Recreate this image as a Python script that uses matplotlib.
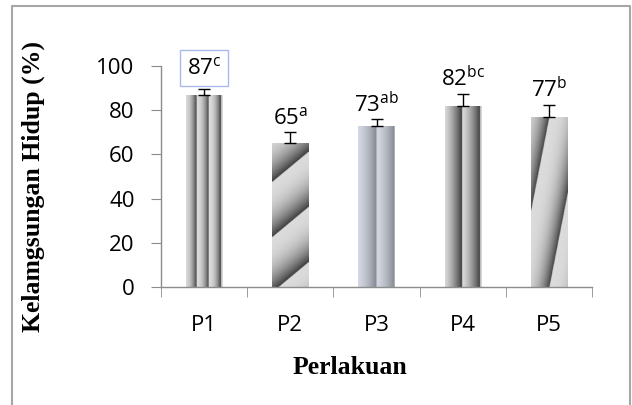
import numpy as np
import matplotlib
matplotlib.use("Agg")
import matplotlib.pyplot as plt
from matplotlib.lines import Line2D

# survival data per treatment
treatments = ['P1', 'P2', 'P3', 'P4', 'P5']
survival = [87, 65, 73, 82, 77]
errors = [2.7, 5.2, 2.8, 5.4, 5.5]
letters = ['c', 'a', 'ab', 'bc', 'b']

plt.rcParams['mathtext.fontset'] = 'custom'
plt.rcParams['mathtext.rm'] = 'Open Sans'

TICK_FONT = 'Open Sans'
LABEL_FONT = 'Liberation Serif'
AXIS_GREY = '#8c8c8c'


def stripe_pattern(kind, nx=80, ny=300):
    # returns an rgb array used to fill a bar (row 0 = bottom)
    u = np.linspace(0, 1, nx)[None, :].repeat(ny, axis=0)
    v = np.linspace(0, 1, ny)[:, None].repeat(nx, axis=1)
    if kind == 'vert':
        t = (u * 3.0 + 0.15) % 1.0
        g = 0.86 - 0.6 * t ** 2.2
    elif kind == 'diag':
        t = (v * 2.6 - u * 0.55 + 0.1) % 1.0
        g = 0.86 - 0.62 * (1 - t) ** 2.5
    elif kind == 'blue':
        t = (u * 2.0) % 1.0
        g = 0.86 - 0.32 * t ** 1.5
        return np.dstack([g * 0.96, g * 0.98, g * 1.03]).clip(0, 1)
    elif kind == 'dark':
        t = (u * 2.0 + 0.08) % 1.0
        g = 0.86 - 0.62 * t ** 1.4
    else:
        t = (u * 1.1 - v * 1.0 + 0.45) % 1.0
        g = 0.86 - 0.6 * t ** 3
    return np.dstack([g, g, g]).clip(0, 1)


patterns = ['vert', 'diag', 'blue', 'dark', 'steep']

fig = plt.figure(figsize=(6.32, 4.05), dpi=100)
ax = fig.add_axes([161 / 632, 1 - 287 / 405, (592 - 161) / 632, (287 - 66) / 405])

x = np.arange(len(treatments))
width = 0.42
bars = ax.bar(x, survival, width=width, color='none', edgecolor='none', zorder=2)

for bar, kind in zip(bars, patterns):
    x0 = bar.get_x()
    h = bar.get_height()
    img = ax.imshow(stripe_pattern(kind), extent=(x0, x0 + bar.get_width(), 0, h),
                    origin='lower', aspect='auto', interpolation='bilinear', zorder=2)
    img.set_clip_path(bar)

ax.errorbar(x, survival, yerr=[np.zeros(len(errors)), errors], fmt='none',
            ecolor='black', elinewidth=1, capsize=4.5, capthick=1, zorder=3)

for i, (val, err, let) in enumerate(zip(survival, errors, letters)):
    label = f'{val}$^{{\\mathrm{{{let}}}}}$'
    kw = {}
    if i == 0:
        kw['bbox'] = dict(boxstyle='square,pad=0.3', fc='white', ec='#a9bbea', lw=1)
    ax.annotate(label, xy=(i, val + err), xytext=(0, 7 if i == 0 else 2),
                textcoords='offset points', ha='center', va='bottom',
                fontsize=16, family=TICK_FONT, zorder=4, **kw)

ax.set_xlim(-0.5, len(treatments) - 0.5)
ax.set_ylim(0, 100)
ax.set_yticks(range(0, 101, 20))
ax.set_xticks(x)
ax.set_xticklabels(treatments)
ax.set_xticks(np.arange(-0.5, len(treatments), 1), minor=True)

ax.tick_params(axis='x', which='major', length=0, pad=20, labelsize=16)
ax.tick_params(axis='x', which='minor', length=7, color=AXIS_GREY, direction='out')
ax.tick_params(axis='y', length=7, color=AXIS_GREY, pad=12, labelsize=16)
for lab in ax.get_xticklabels() + ax.get_yticklabels():
    lab.set_family(TICK_FONT)

for side in ['top', 'right']:
    ax.spines[side].set_visible(False)
for side in ['left', 'bottom']:
    ax.spines[side].set_color(AXIS_GREY)
    ax.spines[side].set_linewidth(1)

fig.text(33 / 632, 1 - 187 / 405, 'Kelamgsungan Hidup (%)', rotation=90,
         ha='center', va='center', family=LABEL_FONT, weight='bold', fontsize=18.5)
fig.text(349.5 / 632, 1 - 367 / 405, 'Perlakuan', ha='center', va='center',
         family=LABEL_FONT, weight='bold', fontsize=18.5)

# outer frame (left, top, right)
frame_x = [12 / 632, 12 / 632, 630 / 632, 630 / 632]
frame_y = [0, 1 - 6 / 405, 1 - 6 / 405, 0]
fig.add_artist(Line2D(frame_x, frame_y, transform=fig.transFigure,
                      color='#a6a6a6', lw=1.5))

fig.savefig('out.png', dpi=100)
